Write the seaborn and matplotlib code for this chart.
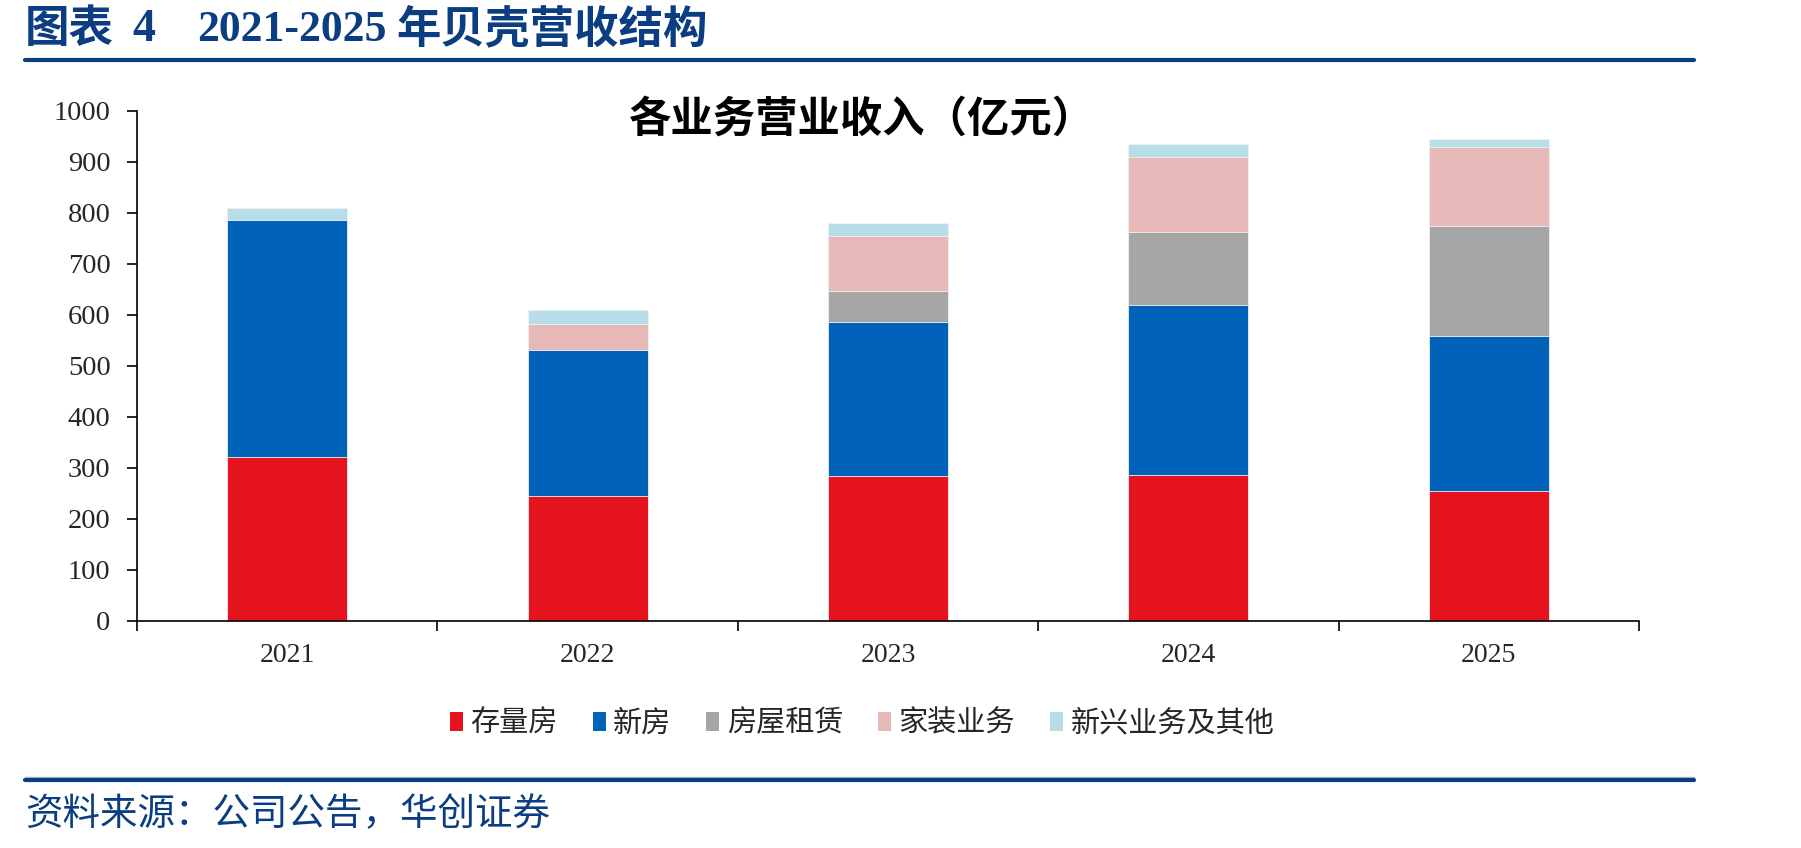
import numpy as np
import pandas as pd
import seaborn as sns
import matplotlib.pyplot as plt
from matplotlib.patches import Patch
from matplotlib.lines import Line2D

# data (亿元)
years = ["2021", "2022", "2023", "2024", "2025"]
segments = ["存量房", "新房", "房屋租赁", "家装业务", "新兴业务及其他"]
existing = [321, 245, 283, 285, 254]
new_home = [464, 285, 303, 335, 304]
rental = [0, 0, 61, 143, 216]
renovation = [0, 51, 108, 146, 154]
emerging = [24, 28, 24, 25, 16]
colors = ["#E5131D", "#0062B8", "#A6A6A6", "#E6B8B7", "#B7DEE8"]

navy = "#0B3D82"

sns.set_style("ticks")
plt.rcParams["font.family"] = ["Liberation Serif", "Noto Sans CJK SC", "DejaVu Sans"]

df = pd.DataFrame({"year": years, "存量房": existing, "新房": new_home,
                   "房屋租赁": rental, "家装业务": renovation,
                   "新兴业务及其他": emerging})

fig = plt.figure(figsize=(18.01, 8.48), dpi=100)
ax = fig.add_axes([137 / 1801, 1 - 620.7 / 848, (1639 - 137) / 1801, 510 / 848])

# stack by drawing cumulative totals, tallest first
cum = df[segments].cumsum(axis=1)
for seg, col in reversed(list(zip(segments, colors))):
    sns.barplot(x=df["year"], y=cum[seg], color=col, width=0.4, errorbar=None,
                ax=ax, edgecolor="#f2f2f2", linewidth=0.6, saturation=1)

ax.set_ylim(0, 1000)
ax.set_xlim(-0.5, 4.5)
ax.set_yticks(np.arange(0, 1001, 100))
ax.set_xlabel("")
ax.set_ylabel("")
ax.set_xticks(np.arange(-0.5, 4.6, 1), minor=True)
ax.tick_params(axis="x", which="major", length=0, pad=16, labelsize=20)
ax.tick_params(axis="x", which="minor", length=7, width=1.2, direction="out", color="black")
ax.tick_params(axis="y", length=7, width=1.2, pad=12, labelsize=20.5, color="black")
for s in ["top", "right"]:
    ax.spines[s].set_visible(False)
for s in ["left", "bottom"]:
    ax.spines[s].set_linewidth(1.2)
    ax.spines[s].set_color("black")

fig.text(862 / 1801, 1 - 120 / 848, "各业务营业收入（亿元）", ha="center", va="center",
         fontsize=30.5, fontweight="bold", color="black")

handles = [Patch(facecolor=c, edgecolor="none") for c in colors]
fig.legend(handles, segments, loc="center", bbox_to_anchor=(862 / 1801, 1 - 724 / 848),
           ncol=5, frameon=False, fontsize=21, handlelength=0.45, handleheight=0.6,
           handletextpad=0.25, columnspacing=1.2)

# header and footer
ty = 1 - 30 / 848
fig.text(25 / 1801, ty, "图表", ha="left", va="center", fontsize=32,
         fontweight="bold", color=navy)
fig.text(132 / 1801, ty, "4", ha="left", va="center", fontsize=33,
         fontweight="bold", color=navy)
fig.text(197 / 1801, ty, "2021-2025", ha="left", va="center", fontsize=31.5,
         fontweight="bold", color=navy)
fig.text(396 / 1801, ty, "年贝壳营收结构", ha="left", va="center", fontsize=32,
         fontweight="bold", color=navy)
fig.add_artist(Line2D([25 / 1801, 1694 / 1801], [1 - 60 / 848] * 2, color=navy, lw=3))
fig.add_artist(Line2D([25 / 1801, 1694 / 1801], [1 - 777 / 848] * 2, color="#A9BCD6", lw=1))
fig.add_artist(Line2D([25 / 1801, 1694 / 1801], [1 - 780 / 848] * 2, color=navy, lw=3))
fig.text(25 / 1801, 1 - 815 / 848, "资料来源：公司公告，华创证券", ha="left", va="center",
         fontsize=27, style="italic", color=navy)

fig.savefig("out.png", dpi=100)
